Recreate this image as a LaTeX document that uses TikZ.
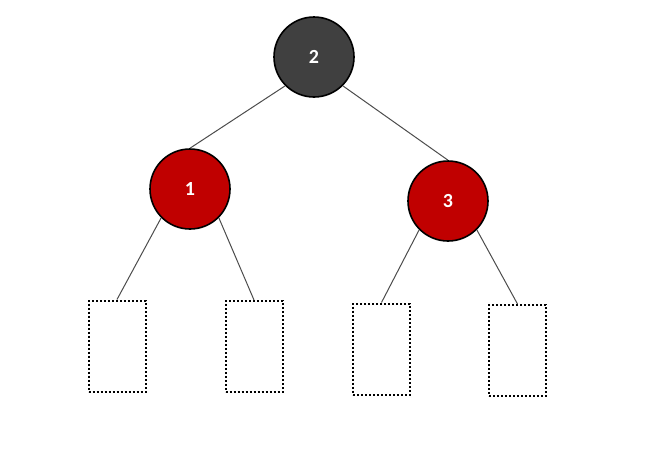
\documentclass[tikz,border=0pt]{standalone}
\usepackage{fontspec}
\setmainfont{Carlito}
\usepackage{tikz}
\definecolor{rootgray}{HTML}{404040}
\definecolor{treered}{HTML}{C00000}
\tikzset{
  treenode/.style={circle, draw=black, line width=1.6pt, minimum size=80pt, inner sep=0pt,
    text=white, font=\fontsize{20}{24}\selectfont\bfseries},
  leafbox/.style={draw=black, line width=2pt, dash pattern=on 2pt off 2pt,
    minimum width=57pt, minimum height=91pt, inner sep=0pt},
  treeedge/.style={draw=black!70, line width=1pt}
}

\begin{document}
\begin{tikzpicture}[x=1pt, y=-1pt]
		%%%%% START %%%%%
		\useasboundingbox (0, 0) rectangle (656, 448);
		
		\node[treenode, fill=rootgray] (root) at (314, 57) {2};
		\node[treenode, fill=treered] (one) at (190, 189) {1};
		\node[treenode, fill=treered] (three) at (448, 201) {3};
		
		\node[leafbox] (leafa) at (117, 346) {};
		\node[leafbox] (leafb) at (254, 346.5) {};
		\node[leafbox] (leafc) at (381.5, 349) {};
		\node[leafbox] (leafd) at (517.5, 350.5) {};
		
		\draw[treeedge] (root.south west) -- (one.north);
		\draw[treeedge] (root.south east) -- (three.north);
		\draw[treeedge] (one.south west) -- (leafa.north);
		\draw[treeedge] (one.south east) -- (leafb.north);
		\draw[treeedge] (three.south west) -- (leafc.north);
		\draw[treeedge] (three.south east) -- (leafd.north);
		
		%%%%% END %%%%%
	\end{tikzpicture}
\end{document}
